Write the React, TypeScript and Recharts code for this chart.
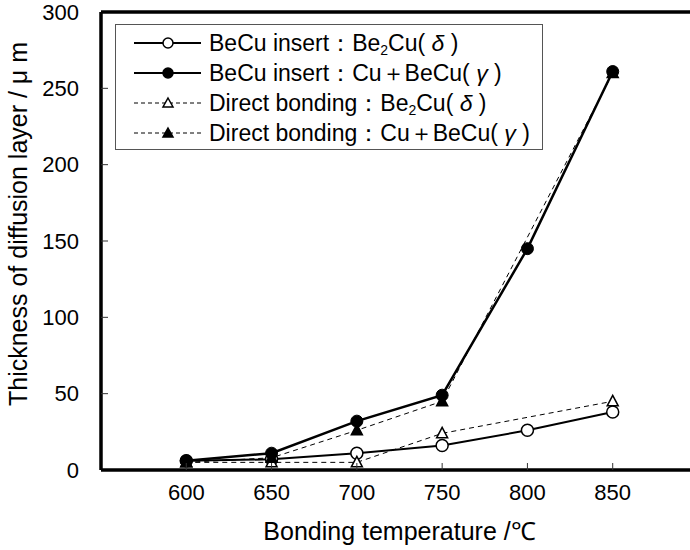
import React from "react";
import {
  LineChart,
  Line,
  XAxis,
  YAxis,
  Legend,
  ReferenceLine,
  Label,
} from "recharts";

// bonding temperature (°C)
const temps = [600, 650, 700, 750, 800, 850];
// diffusion layer thickness (µm), null = not measured
const insertDelta = [6, 7, 11, 16, 26, 38];
const insertGamma = [6, 11, 32, 49, 145, 261];
const directDelta = [5, 5, 5, 24, null, 45];
const directGamma = [5, 8, 26, 45, null, 260];

const xTicks = [600, 650, 700, 750, 800, 850];
const yTicks = [0, 50, 100, 150, 200, 250, 300];

const FONT = '"Liberation Sans", Arial, sans-serif';
const AXIS_W = 3.5;

const data = temps.map((t, i) => ({
  temp: t,
  insertDelta: insertDelta[i],
  insertGamma: insertGamma[i],
  directDelta: directDelta[i],
  directGamma: directGamma[i],
}));

function triangleDot(filled: boolean) {
  return (props: any) => {
    const { cx, cy, index, value } = props;
    if (cx == null || cy == null || value == null) return <g key={index} />;
    return (
      <path
        key={index}
        d={`M${cx},${cy - 6} L${cx + 5.5},${cy + 4.5} L${cx - 5.5},${cy + 4.5} Z`}
        fill={filled ? "#000" : "#fff"}
        stroke="#000"
        strokeWidth={1.5}
      />
    );
  };
}

const X_MARGIN = 14;
function XTick({ x, y, payload }: any) {
  const axisY = y - X_MARGIN;
  return (
    <g>
      <line x1={x} x2={x} y1={axisY} y2={axisY - 7} stroke="#333" strokeWidth={1} />
      <text x={x} y={y} dy="0.71em" textAnchor="middle" fontSize={22} fontFamily={FONT} fill="#000">
        {payload.value}
      </text>
    </g>
  );
}

const Y_MARGIN = 22;
function YTick({ x, y, payload }: any) {
  const axisX = x + Y_MARGIN;
  return (
    <g>
      {payload.value > 0 && payload.value < 300 && (
        <line x1={axisX} x2={axisX + 7} y1={y} y2={y} stroke="#333" strokeWidth={1} />
      )}
      <text x={x} y={y} dy="0.355em" textAnchor="end" fontSize={22} fontFamily={FONT} fill="#000">
        {payload.value}
      </text>
    </g>
  );
}

const legendRows = [
  { key: "insertDelta", dashed: false, marker: "circle-open", label: "delta", prefix: "BeCu insert" },
  { key: "insertGamma", dashed: false, marker: "circle-filled", label: "gamma", prefix: "BeCu insert" },
  { key: "directDelta", dashed: true, marker: "tri-open", label: "delta", prefix: "Direct bonding" },
  { key: "directGamma", dashed: true, marker: "tri-filled", label: "gamma", prefix: "Direct bonding" },
];

function renderLegend() {
  return (
    <div
      style={{
        border: "1px solid #555",
        width: 428,
        height: 126,
        boxSizing: "border-box",
        paddingTop: 3,
        fontFamily: FONT,
        fontSize: 23,
        color: "#000",
        background: "#fff",
      }}
    >
      {legendRows.map((r) => (
        <div key={r.key} style={{ display: "flex", alignItems: "center", height: 30, whiteSpace: "nowrap" }}>
          <svg width={92} height={30} style={{ flex: "none" }}>
            <line
              x1={18}
              x2={85}
              y1={15}
              y2={15}
              stroke="#000"
              strokeWidth={r.dashed ? 1 : 2}
              strokeDasharray={r.dashed ? "4 3" : undefined}
            />
            {r.marker.startsWith("circle") ? (
              <circle cx={52} cy={15} r={5} fill={r.marker === "circle-filled" ? "#000" : "#fff"} stroke="#000" strokeWidth={1.5} />
            ) : (
              <path
                d="M52,10 L57,19 L47,19 Z"
                fill={r.marker === "tri-filled" ? "#000" : "#fff"}
                stroke="#000"
                strokeWidth={1.5}
              />
            )}
          </svg>
          <span style={{ marginLeft: 1 }}>
            {r.prefix}：
            {r.label === "delta" ? (
              <>
                Be<sub style={{ fontSize: 14, verticalAlign: "-4px" }}>2</sub>Cu(&nbsp;<i>δ</i>&nbsp;)
              </>
            ) : (
              <>
                Cu＋BeCu(&nbsp;<i>γ</i>&nbsp;)
              </>
            )}
          </span>
        </div>
      ))}
    </div>
  );
}

export default function App() {
  return (
    <div
      style={{
        position: "absolute",
        left: 0,
        top: 0,
        width: 690,
        height: 550,
        overflow: "hidden",
        background: "#fff",
      }}
    >
      <LineChart
        width={700}
        height={550}
        data={data}
        margin={{ top: 12, right: 2, left: 0, bottom: 10 }}
        style={{ fontFamily: FONT }}
      >
        <XAxis
          dataKey="temp"
          type="number"
          domain={[550, 900]}
          ticks={xTicks}
          height={70}
          axisLine={{ stroke: "#000", strokeWidth: AXIS_W }}
          tickLine={false}
          tickSize={0}
          tickMargin={X_MARGIN}
          tick={<XTick />}
          allowDataOverflow
        >
          <Label
            value="Bonding temperature /℃"
            position="insideBottom"
            offset={0}
            style={{ fontSize: 25, fontFamily: FONT, fill: "#000" }}
          />
        </XAxis>
        <YAxis
          type="number"
          domain={[0, 300]}
          ticks={yTicks}
          width={101}
          axisLine={{ stroke: "#000", strokeWidth: AXIS_W }}
          tickLine={false}
          tickSize={0}
          tickMargin={Y_MARGIN}
          tick={<YTick />}
        >
          <Label
            content={({ viewBox }: any) => {
              const cx = viewBox.x + 18;
              const cy = viewBox.y + viewBox.height / 2 - 17;
              return (
                <text
                  x={cx}
                  y={cy}
                  transform={`rotate(-90, ${cx}, ${cy})`}
                  textAnchor="middle"
                  dominantBaseline="central"
                  fontSize={25}
                  fontFamily={FONT}
                  fill="#000"
                >
                  Thickness of diffusion layer / μ m
                </text>
              );
            }}
          />
        </YAxis>
        <ReferenceLine y={300} stroke="#000" strokeWidth={AXIS_W} />
        <Legend
          content={renderLegend}
          layout="vertical"
          align="center"
          verticalAlign="middle"
          wrapperStyle={{ left: 115, top: 24, width: 428, height: 126 }}
        />
        <Line
          dataKey="insertDelta"
          stroke="#000"
          strokeWidth={2}
          dot={{ r: 6, fill: "#fff", stroke: "#000", strokeWidth: 1.5 }}
          isAnimationActive={false}
        />
        <Line
          dataKey="insertGamma"
          stroke="#000"
          strokeWidth={2.5}
          dot={{ r: 6, fill: "#000", stroke: "#000", strokeWidth: 1 }}
          isAnimationActive={false}
        />
        <Line
          dataKey="directDelta"
          stroke="#000"
          strokeWidth={1}
          strokeDasharray="5 4"
          connectNulls
          dot={triangleDot(false)}
          isAnimationActive={false}
        />
        <Line
          dataKey="directGamma"
          stroke="#000"
          strokeWidth={1}
          strokeDasharray="5 4"
          connectNulls
          dot={triangleDot(true)}
          isAnimationActive={false}
        />
      </LineChart>
    </div>
  );
}
